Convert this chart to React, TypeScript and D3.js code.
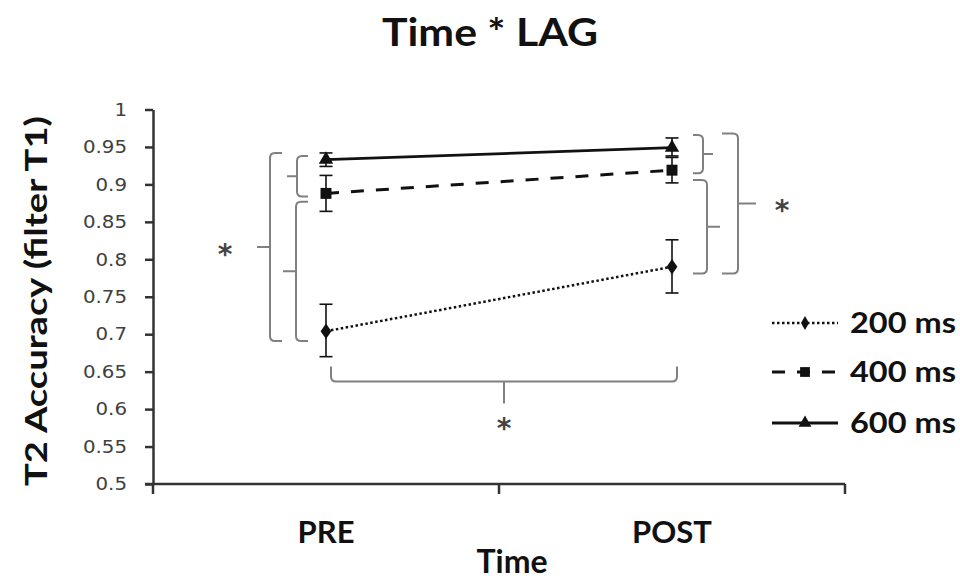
import React, { useEffect, useRef } from "react";
import * as d3 from "d3";

// data
const categories = ["PRE", "POST"];
const yTicks = [0.5, 0.55, 0.6, 0.65, 0.7, 0.75, 0.8, 0.85, 0.9, 0.95, 1];

const lag200 = [0.704, 0.79];
const lag200Err = [[0.67, 0.74], [0.755, 0.826]];
const lag400 = [0.888, 0.919];
const lag400Err = [[0.864, 0.912], [0.902, 0.936]];
const lag600 = [0.933, 0.949];
const lag600Err = [[0.924, 0.942], [0.938, 0.962]];

const seriesNames = ["200 ms", "400 ms", "600 ms"];

// significance brackets (value spans)
const preBrackets = [[0.942, 0.691], [0.938, 0.884], [0.877, 0.691]];
const postBrackets = [[0.966, 0.915], [0.906, 0.781], [0.968, 0.781]];
const timeBracketLevel = 0.637;

const W = 960, H = 580;

const App = () => {
  const svgRef = useRef(null);

  useEffect(() => {
    const svg = d3.select(svgRef.current);
    svg.selectAll("*").remove();

    const x = d3.scaleBand().domain(categories).range([153, 845]).padding(0);
    const cx = (c) => x(c) + x.bandwidth() / 2;
    const y = d3.scaleLinear().domain([0.5, 1]).range([484, 109.5]);

    const boldFont = "Lato, 'Open Sans', sans-serif";
    const axisColor = "#333";
    const bracketColor = "#808080";

    // title
    svg.append("text")
      .attr("x", 490).attr("y", 46)
      .attr("text-anchor", "middle")
      .attr("font-family", boldFont).attr("font-weight", 700)
      .attr("font-size", 39).attr("fill", "#111")
      .attr("textLength", 216).attr("lengthAdjust", "spacingAndGlyphs")
      .text("Time * LAG");

    // y axis
    const gy = svg.append("g")
      .attr("transform", `translate(${x.range()[0]},0)`)
      .call(d3.axisLeft(y).tickValues(yTicks).tickSize(8).tickPadding(17).tickSizeOuter(0)
        .tickFormat(d => String(d)));
    gy.select(".domain").attr("stroke", axisColor).attr("stroke-width", 2.5);
    gy.selectAll(".tick line").attr("stroke", axisColor).attr("stroke-width", 2.5);
    gy.selectAll(".tick text")
      .attr("font-family", "'DejaVu Sans', Verdana, sans-serif")
      .attr("font-size", 18).attr("fill", "#404040")
      .attr("transform", "scale(1.1,1)")
      .attr("x", -26 / 1.1);

    // x axis
    const [x0, x1] = x.range();
    const xBounds = [x0, ...categories.map(c => x(c) + x.bandwidth())];
    const gx = svg.append("g");
    gx.append("line")
      .attr("x1", x0 - 8).attr("x2", x1)
      .attr("y1", y(0.5)).attr("y2", y(0.5))
      .attr("stroke", axisColor).attr("stroke-width", 2.5);
    gx.selectAll("line.tk").data(xBounds).join("line")
      .attr("class", "tk")
      .attr("x1", d => d).attr("x2", d => d)
      .attr("y1", y(0.5)).attr("y2", y(0.5) + 10)
      .attr("stroke", axisColor).attr("stroke-width", 2.5);
    gx.selectAll("text").data(categories).join("text")
      .attr("x", d => cx(d)).attr("y", 543)
      .attr("text-anchor", "middle")
      .attr("font-family", boldFont).attr("font-weight", 700)
      .attr("font-size", 31).attr("fill", "#111")
      .text(d => d);

    // axis titles
    svg.append("text")
      .attr("x", 512).attr("y", 573)
      .attr("text-anchor", "middle")
      .attr("font-family", boldFont).attr("font-weight", 700)
      .attr("font-size", 32).attr("fill", "#111")
      .text("Time");
    svg.append("text")
      .attr("transform", `translate(47,301) rotate(-90)`)
      .attr("text-anchor", "middle")
      .attr("font-family", boldFont).attr("font-weight", 700)
      .attr("font-size", 31).attr("fill", "#111")
      .attr("textLength", 370).attr("lengthAdjust", "spacingAndGlyphs")
      .text("T2 Accuracy (filter T1)");

    // brackets
    const bk = svg.append("g").attr("fill", "none")
      .attr("stroke", bracketColor).attr("stroke-width", 2);
    const vBrace = (vx, ya, yb, dir, hook, stub) => {
      // dir = +1 : hooks point right ("{"), -1 : hooks point left ("}")
      const r = 5, ym = (ya + yb) / 2;
      const p = d3.path();
      p.moveTo(vx + dir * hook, ya);
      p.lineTo(vx + dir * r, ya);
      p.quadraticCurveTo(vx, ya, vx, ya + r);
      p.lineTo(vx, yb - r);
      p.quadraticCurveTo(vx, yb, vx + dir * r, yb);
      p.lineTo(vx + dir * hook, yb);
      p.moveTo(vx, ym);
      p.lineTo(vx - dir * stub, ym);
      return p.toString();
    };
    const preX = cx("PRE"), postX = cx("POST");
    const preLayout = [[-56, 12, 13], [-29, 11, 10], [-30, 12, 13]];
    const postLayout = [[31, 10, 10], [35, 14, 13], [66, 16, 18]];
    preBrackets.forEach(([a, b], i) => {
      const [off, hook, stub] = preLayout[i];
      bk.append("path").attr("d", vBrace(preX + off, y(a), y(b), 1, hook, stub));
    });
    postBrackets.forEach(([a, b], i) => {
      const [off, hook, stub] = postLayout[i];
      bk.append("path").attr("d", vBrace(postX + off, y(a), y(b), -1, hook, stub));
    });
    // horizontal time bracket
    {
      const yb = y(timeBracketLevel), xa = preX + 5, xb = postX + 5, r = 5;
      const xm = (xa + xb) / 2;
      const p = d3.path();
      p.moveTo(xa, yb - 15);
      p.lineTo(xa, yb - r);
      p.quadraticCurveTo(xa, yb, xa + r, yb);
      p.lineTo(xb - r, yb);
      p.quadraticCurveTo(xb, yb, xb, yb - r);
      p.lineTo(xb, yb - 15);
      p.moveTo(xm, yb);
      p.lineTo(xm, yb + 22);
      bk.append("path").attr("d", p.toString());
    }

    // asterisks
    const stars = [
      [preX - 101, y(0.8165)],
      [postX + 110, y(0.8745)],
      [(preX + postX) / 2 + 5, y(timeBracketLevel) + 40],
    ];
    svg.selectAll("text.star").data(stars).join("text")
      .attr("class", "star")
      .attr("x", d => d[0]).attr("y", d => d[1] + 17)
      .attr("text-anchor", "middle")
      .attr("font-family", "'DejaVu Sans', Verdana, sans-serif")
      .attr("font-weight", 700)
      .attr("font-size", 28).attr("fill", "#444")
      .text("*");

    // series
    const series = [
      { name: seriesNames[0], values: lag200, err: lag200Err, dash: "2.5,2.5", width: 2.5, symbol: d3.symbolDiamond, size: 70 },
      { name: seriesNames[1], values: lag400, err: lag400Err, dash: "13,12", width: 3, symbol: d3.symbolSquare, size: 120 },
      { name: seriesNames[2], values: lag600, err: lag600Err, dash: null, width: 2.8, symbol: d3.symbolTriangle, size: 90 },
    ];
    const line = d3.line().x((d, i) => cx(categories[i])).y(d => y(d));
    const gs = svg.append("g");
    series.forEach(s => {
      const g = gs.append("g");
      g.append("path")
        .attr("d", line(s.values))
        .attr("fill", "none").attr("stroke", "#111")
        .attr("stroke-width", s.width)
        .attr("stroke-dasharray", s.dash);
      s.err.forEach(([lo, hi], i) => {
        const px = cx(categories[i]);
        g.append("line").attr("x1", px).attr("x2", px).attr("y1", y(lo)).attr("y2", y(hi))
          .attr("stroke", "#111").attr("stroke-width", 1.6);
        [lo, hi].forEach(v => g.append("line")
          .attr("x1", px - 6.5).attr("x2", px + 6.5).attr("y1", y(v)).attr("y2", y(v))
          .attr("stroke", "#111").attr("stroke-width", 1.6));
      });
      g.selectAll("path.m").data(s.values).join("path")
        .attr("class", "m")
        .attr("transform", (d, i) => `translate(${cx(categories[i])},${y(d)})${s.symbol === d3.symbolDiamond ? " scale(1.2,1)" : ""}`)
        .attr("d", d3.symbol(s.symbol, s.size))
        .attr("fill", "#111");
    });

    // legend
    const lg = svg.append("g");
    const legendRows = [323, 372, 423];
    series.forEach((s, i) => {
      const ly = legendRows[i];
      lg.append("line")
        .attr("x1", 772).attr("x2", 838).attr("y1", ly).attr("y2", ly)
        .attr("stroke", "#111").attr("stroke-width", s.width)
        .attr("stroke-dasharray", s.dash);
      lg.append("path")
        .attr("transform", `translate(805,${ly})`)
        .attr("d", d3.symbol(s.symbol, s.size * 0.8))
        .attr("fill", "#111");
      lg.append("text")
        .attr("x", 850).attr("y", ly + 10)
        .attr("font-family", boldFont).attr("font-weight", 700)
        .attr("font-size", 29).attr("fill", "#111")
        .attr("textLength", 106).attr("lengthAdjust", "spacingAndGlyphs")
        .text(s.name);
    });
  }, []);

  return (
    <svg ref={svgRef} width={W} height={H}
      style={{ position: "absolute", left: 0, top: 0, background: "#fff" }} />
  );
};

export default App;
